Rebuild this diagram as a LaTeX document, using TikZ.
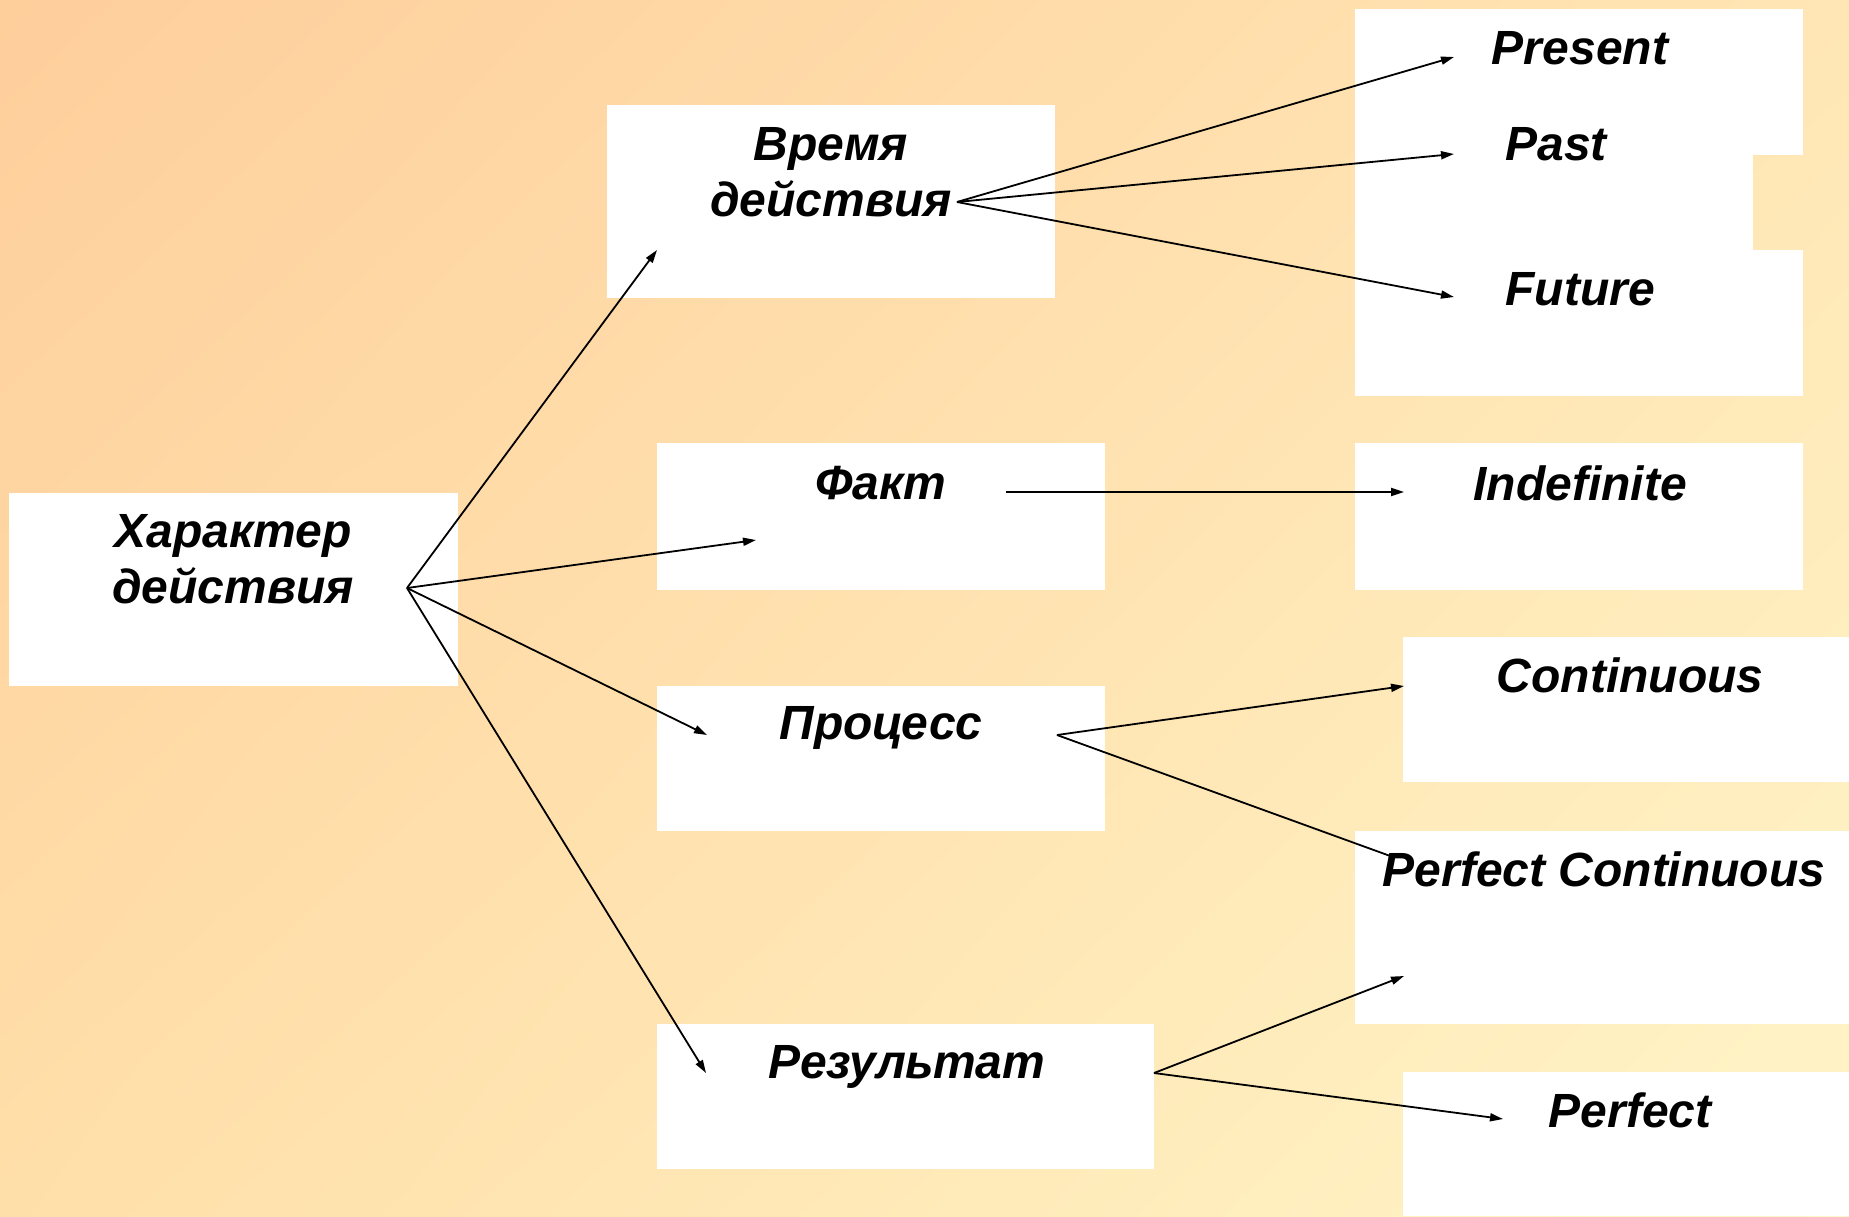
\documentclass[tikz,border=0pt]{standalone}
\usepackage{fontspec}
\setmainfont{Liberation Sans}
\usetikzlibrary{arrows.meta,shadings}
\definecolor{bgTL}{HTML}{FECE9B}
\definecolor{bgTR}{HTML}{FFE6B4}
\definecolor{bgBL}{HTML}{FFDFA9}
\definecolor{bgBR}{HTML}{FFF5C8}
\tikzset{
  boxst/.style={fill=white, draw=none, inner sep=0pt, outer sep=0pt},
  lbl/.style={font=\fontsize{48}{56}\selectfont\bfseries\itshape, inner sep=0pt, anchor=base, align=center},
  arr/.style={line width=1.8pt, -{Triangle[length=13pt,width=8pt]}},
  ln/.style={line width=1.8pt}
}
\begin{document}
\begin{tikzpicture}[x=1pt, y=-1pt]
\useasboundingbox (0,0) rectangle (1849,1216);
\shade[upper left=bgTL, upper right=bgTR, lower left=bgBL, lower right=bgBR] (0,0) rectangle (1849,1216);
% boxes
\node[boxst, minimum width=449pt, minimum height=193pt] (harbox) at (233.5,589.5) {};
\node[boxst, minimum width=448pt, minimum height=193pt] (vrbox) at (831,201.5) {};
\node[boxst, minimum width=448pt, minimum height=147pt] (faktbox) at (881,516.5) {};
\node[boxst, minimum width=448pt, minimum height=145pt] (procbox) at (881,758.5) {};
\node[boxst, minimum width=497pt, minimum height=145pt] (rezbox) at (905.5,1096.5) {};
\node[boxst, minimum width=448pt, minimum height=146pt] (presbox) at (1579,81.5) {};
\node[boxst, minimum width=398pt, minimum height=97pt] (pastbox) at (1554,202) {};
\node[boxst, minimum width=448pt, minimum height=146pt] (futbox) at (1579,322.5) {};
\node[boxst, minimum width=448pt, minimum height=147pt] (indbox) at (1579,516.5) {};
\node[boxst, minimum width=446pt, minimum height=145pt] (contbox) at (1626,709.5) {};
\node[boxst, minimum width=494pt, minimum height=193pt] (pcbox) at (1602,927.5) {};
\node[boxst, minimum width=446pt, minimum height=144pt] (perfbox) at (1626,1144) {};
% connector points
\coordinate (hubA) at (407,588);
\coordinate (endV) at (657,250);
\coordinate (endF) at (756,540);
\coordinate (endP) at (707,735);
\coordinate (endR) at (706,1073);
\coordinate (hubV) at (957,202);
\coordinate (endPres) at (1454,57);
\coordinate (endPast) at (1454,154);
\coordinate (endFut) at (1454,297);
\coordinate (startF) at (1006,492);
\coordinate (endInd) at (1404,492);
\coordinate (hubP) at (1057,735);
\coordinate (endCont) at (1404,686);
\coordinate (endPC) at (1393,857);
\coordinate (hubR) at (1154,1073);
\coordinate (endPCb) at (1404,976);
\coordinate (endPerf) at (1503,1119);
% connectors
\draw[arr] (hubA) -- (endV);
\draw[arr] (hubA) -- (endF);
\draw[arr] (hubA) -- (endP);
\draw[arr] (hubA) -- (endR);
\draw[arr] (hubV) -- (endPres);
\draw[arr] (hubV) -- (endPast);
\draw[arr] (hubV) -- (endFut);
\draw[arr] (startF) -- (endInd);
\draw[arr] (hubP) -- (endCont);
\draw[ln] (hubP) -- (endPC);
\draw[arr] (hubR) -- (endPCb);
\draw[arr] (hubR) -- (endPerf);
% labels (multi-line: base = last line)
\node[lbl] (harlbl) at (233,603) {Характер\\действия};
\node[lbl] (vrlbl) at (831,216) {Время\\действия};
\node[lbl] (faktlbl) at (881,499) {Факт};
\node[lbl] (proclbl) at (881,739) {Процесс};
\node[lbl] (rezlbl) at (907,1078) {Результат};
\node[lbl] (preslbl) at (1580,64) {Present};
\node[lbl] (pastlbl) at (1556,160) {Past};
\node[lbl] (futlbl) at (1580,305) {Future};
\node[lbl] (indlbl) at (1580,500) {Indefinite};
\node[lbl] (contlbl) at (1630,692) {Continuous};
\node[lbl] (pclbl) at (1604,886) {Perfect Continuous};
\node[lbl] (perflbl) at (1630,1127) {Perfect};
\end{tikzpicture}
\end{document}
